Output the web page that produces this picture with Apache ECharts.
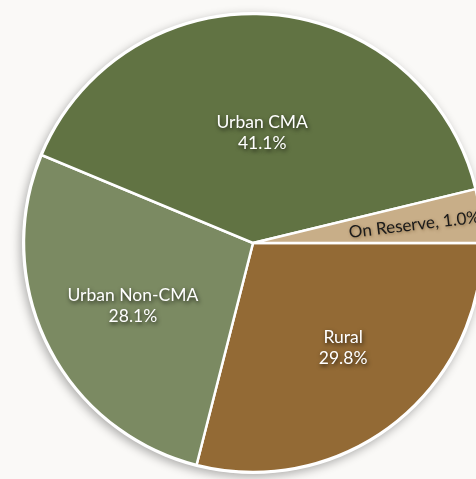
<!DOCTYPE html>
<html>
<head>
<meta charset="utf-8">
<script src="https://cdn.jsdelivr.net/npm/echarts@6/dist/echarts.min.js"></script>
<style>
html,body{margin:0;padding:0;background:#faf9f7;}
#chart{width:476px;height:479px;}
</style>
</head>
<body>
<div id="chart"></div>
<script>
const categories = ['Rural', 'Urban Non-CMA', 'Urban CMA', 'On Reserve'];
const shares = [29.8, 28.1, 41.1, 1.0];
const colors = ['#936a35', '#7b8a62', '#617343', '#c8ae88'];
// label nudges (px) relative to the library's inside position
const labelNudge = { 'Rural': [18, 12], 'Urban Non-CMA': [-15, 10], 'Urban CMA': [0, 7], 'On Reserve': [45, 1] };

const chart = echarts.init(document.getElementById('chart'));
const whiteLabel = {
  show: true,
  position: 'inside',
  color: '#ffffff',
  fontFamily: 'Lato',
  fontSize: 17.5,
  lineHeight: 21,
  textShadowColor: 'rgba(0,0,0,0.75)',
  textShadowBlur: 4,
  textShadowOffsetX: 1,
  textShadowOffsetY: 2,
  formatter: p => p.name + '\n' + p.value.toFixed(1) + '%'
};
const data = categories.map((name, i) => {
  const item = { name, value: shares[i], itemStyle: { color: colors[i] }, label: { offset: labelNudge[name] } };
  if (name === 'On Reserve') {
    item.label = {
      show: true, position: 'inside', rotate: 'radial', color: '#1a1a1a',
      fontFamily: 'Lato', fontSize: 17,
      offset: labelNudge[name],
      textShadowColor: 'rgba(90,60,20,0.5)', textShadowBlur: 3,
      textShadowOffsetX: 1, textShadowOffsetY: 1,
      formatter: p => p.name + ', ' + p.value.toFixed(1) + '%'
    };
  }
  return item;
});

chart.setOption({
  backgroundColor: '#faf9f7',
  animation: false,
  series: [
    {
      type: 'pie', silent: true, z: 1,
      center: [253, 243], radius: 231,
      label: { show: false }, labelLine: { show: false },
      itemStyle: { color: '#ffffff', shadowBlur: 10, shadowColor: 'rgba(0,0,0,0.3)', shadowOffsetX: -2, shadowOffsetY: 3 },
      data: [{ value: 1, name: '' }]
    },
    {
      type: 'pie', z: 2,
      center: [253, 243], radius: 229,
      startAngle: 0, clockwise: true,
      minAngle: 13.6,
      avoidLabelOverlap: false,
      itemStyle: { borderColor: '#ffffff', borderWidth: 2.5 },
      label: whiteLabel,
      labelLine: { show: false },
      data: data
    }
  ]
});
</script>
</body>
</html>
